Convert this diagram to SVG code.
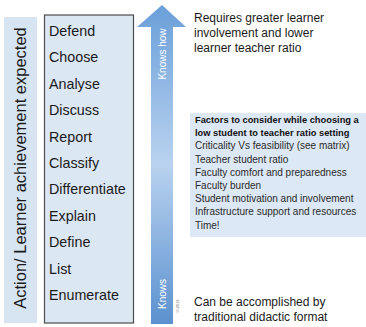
<svg xmlns="http://www.w3.org/2000/svg" width="366" height="327" viewBox="0 0 366 327">
  <defs>
    <linearGradient id="arrowFill" x1="0" y1="0" x2="0" y2="1">
      <stop offset="0" stop-color="#6a9fd9"/>
      <stop offset="0.5" stop-color="#b9d2ef"/>
      <stop offset="1" stop-color="#5b91cf"/>
    </linearGradient>
    <style>
      .sans { font-family: "Liberation Sans", Arial, sans-serif; }
      .verb { font-size: 14.3px; fill: #1a1a1a; }
      .note { font-size: 12px; fill: #1a1a1a; }
      .factor { font-size: 10px; fill: #2a2a2a; }
      .factor-head { font-size: 9.3px; font-weight: bold; fill: #111; }
      .inarrow { font-size: 10px; fill: #ffffff; }
    </style>
  </defs>
  <rect width="366" height="327" fill="#ffffff"/>

  <!-- vertical axis label -->
  <g id="axis-label">
    <rect x="4" y="17" width="33" height="306" fill="#d7e4f2"/>
    <text class="sans" x="0" y="0" font-size="16.5" fill="#1a1a1a" text-anchor="middle" transform="translate(26 168) rotate(-90)">Action/ Learner achievement expected</text>
  </g>

  <!-- list of action verbs -->
  <g id="verb-list">
    <rect x="44.5" y="15" width="89" height="308" fill="#dce7f4" stroke="#4d4d4d" stroke-width="1.2"/>
    <g class="sans verb">
      <text x="49" y="36">Defend</text>
      <text x="49" y="62.4">Choose</text>
      <text x="49" y="88.8">Analyse</text>
      <text x="49" y="115.2">Discuss</text>
      <text x="49" y="141.6">Report</text>
      <text x="49" y="168">Classify</text>
      <text x="49" y="194.4">Differentiate</text>
      <text x="49" y="220.8">Explain</text>
      <text x="49" y="247.2">Define</text>
      <text x="49" y="273.6">List</text>
      <text x="49" y="300">Enumerate</text>
    </g>
  </g>

  <!-- upward arrow: knows -> knows how -->
  <g id="progress-arrow">
    <path d="M162,5 L186,27 L173,27 L173,324 L151,324 L151,27 L137,27 Z" fill="url(#arrowFill)"/>
    <text class="sans inarrow" x="0" y="0" text-anchor="middle" transform="translate(165.5 54) rotate(-90)">Knows how</text>
    <text class="sans inarrow" x="0" y="0" text-anchor="middle" transform="translate(165.5 294) rotate(-90)">Knows</text>
    <text class="sans" x="0" y="0" font-size="4" fill="#666" text-anchor="middle" transform="translate(178.5 306) rotate(-90)">© 2019</text>
  </g>

  <!-- top note -->
  <g id="note-top" class="sans note">
    <text x="194" y="22">Requires greater learner</text>
    <text x="194" y="37">involvement and lower</text>
    <text x="194" y="52">learner teacher ratio</text>
  </g>

  <!-- factors box -->
  <g id="factors">
    <rect x="190" y="113" width="176" height="124" fill="#dce8f5"/>
    <g class="sans">
      <text class="factor-head" x="195" y="123">Factors to consider while choosing a</text>
      <text class="factor-head" x="195" y="136.2">low student to teacher ratio setting</text>
      <text class="factor" x="195" y="149.4">Criticality Vs feasibility (see matrix)</text>
      <text class="factor" x="195" y="162.6">Teacher student ratio</text>
      <text class="factor" x="195" y="175.8">Faculty comfort and preparedness</text>
      <text class="factor" x="195" y="189">Faculty burden</text>
      <text class="factor" x="195" y="202.2">Student motivation and involvement</text>
      <text class="factor" x="195" y="215.4">Infrastructure support and resources</text>
      <text class="factor" x="195" y="228.6">Time!</text>
    </g>
  </g>

  <!-- bottom note -->
  <g id="note-bottom" class="sans note">
    <text x="194" y="306">Can be accomplished by</text>
    <text x="194" y="321">traditional didactic format</text>
  </g>
</svg>
